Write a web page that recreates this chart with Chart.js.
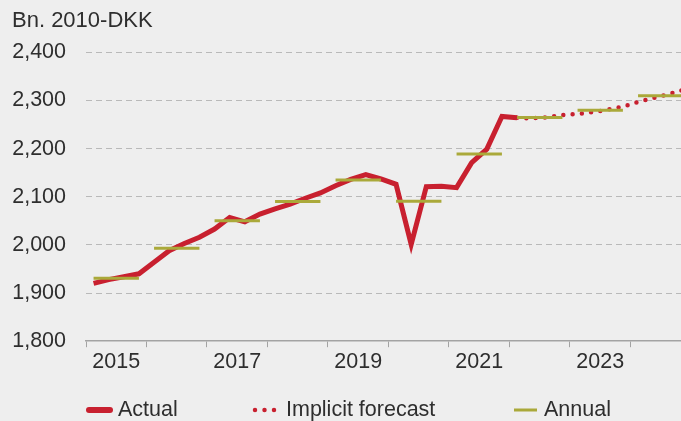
<!DOCTYPE html>
<html>
<head>
<meta charset="utf-8">
<script src="https://cdn.jsdelivr.net/npm/chart.js@4.4.1/dist/chart.umd.min.js"></script>
<style>
  html, body { margin: 0; padding: 0; background: #eeeeee; }
  #wrap { width: 681px; height: 421px; }
</style>
</head>
<body>
<div id="wrap"><canvas id="chart"></canvas></div>
<script>
// Quarterly GDP, actual
const actualQuarters = [
  '2015Q1', '2015Q2', '2015Q3', '2015Q4',
  '2016Q1', '2016Q2', '2016Q3', '2016Q4',
  '2017Q1', '2017Q2', '2017Q3', '2017Q4',
  '2018Q1', '2018Q2', '2018Q3', '2018Q4',
  '2019Q1', '2019Q2', '2019Q3', '2019Q4',
  '2020Q1', '2020Q2', '2020Q3', '2020Q4',
  '2021Q1', '2021Q2', '2021Q3', '2021Q4',
  '2022Q1'
];
const actualValues = [
  1920, 1928, 1934, 1940,
  1964, 1988, 2003, 2016,
  2033, 2057, 2048, 2064,
  2075, 2085, 2097, 2108,
  2123, 2136, 2146, 2137,
  2126, 2001, 2121, 2122,
  2119, 2171, 2199, 2267,
  2264
];

// Implicit forecast
const forecastQuarters = [
  '2022Q1', '2022Q2', '2022Q3', '2022Q4',
  '2023Q1', '2023Q2', '2023Q3', '2023Q4',
  '2024Q1', '2024Q2', '2024Q3', '2024Q4'
];
const forecastValues = [
  2264, 2263, 2265, 2270,
  2272, 2276, 2281, 2287,
  2297, 2305, 2313, 2322
];

// Annual averages
const annualYears = [2015, 2016, 2017, 2018, 2019, 2020, 2021, 2022, 2023, 2024];
const annualValues = [1931, 1993, 2050, 2090, 2135, 2091, 2189, 2265, 2280, 2310];

const yMin = 1800;
const yMax = 2400;
const yStep = 100;
const xLabelYears = [2015, 2017, 2019, 2021, 2023];

const red = '#c8202f';
const olive = '#aaa93a';
const textColor = '#2e2e2e';
const fontFamily = '"Liberation Sans", Arial, Helvetica, sans-serif';
const fontSize = 21.5;

// '2016Q3' -> 2016.625 (middle of the quarter)
function quarterToX(label) {
  const year = parseInt(label.slice(0, 4), 10);
  const q = parseInt(label.slice(5), 10);
  return year + (q - 0.5) / 4;
}

const actualData = actualQuarters.map((q, i) => ({ x: quarterToX(q), y: actualValues[i] }));
const forecastData = forecastQuarters.map((q, i) => ({ x: quarterToX(q), y: forecastValues[i] }));

// one flat segment per year, from Q1 to Q4, broken by a gap
const annualData = [];
annualYears.forEach((year, i) => {
  annualData.push({ x: quarterToX(year + 'Q1'), y: annualValues[i] });
  annualData.push({ x: quarterToX(year + 'Q4'), y: annualValues[i] });
  annualData.push({ x: year + 0.94, y: null });
});

// Legend drawn at the bottom, under the axis
const bottomLegend = {
  id: 'bottomLegend',
  afterDraw(chart) {
    const ctx = chart.ctx;
    const y = 410;
    const items = [
      { text: 'Actual', color: red, width: 6, dash: [], cap: 'round', x0: 89, x1: 110, textX: 118 },
      { text: 'Implicit forecast', color: red, width: 4.5, dash: [0, 9.5], cap: 'round', x0: 255, x1: 275, textX: 286 },
      { text: 'Annual', color: olive, width: 3, dash: [], cap: 'butt', x0: 514, x1: 537, textX: 544 }
    ];
    ctx.save();
    ctx.font = fontSize + 'px ' + fontFamily;
    ctx.textBaseline = 'middle';
    ctx.textAlign = 'left';
    items.forEach(item => {
      ctx.beginPath();
      ctx.strokeStyle = item.color;
      ctx.lineWidth = item.width;
      ctx.lineCap = item.cap;
      ctx.setLineDash(item.dash);
      ctx.moveTo(item.x0, y);
      ctx.lineTo(item.x1, y);
      ctx.stroke();
      ctx.setLineDash([]);
      ctx.fillStyle = textColor;
      ctx.fillText(item.text, item.textX, y);
    });
    ctx.restore();
  }
};

const ctx = document.getElementById('chart').getContext('2d');
new Chart(ctx, {
  type: 'line',
  data: {
    datasets: [
      {
        label: 'Actual',
        data: actualData,
        borderColor: red,
        borderWidth: 5,
        borderJoinStyle: 'miter',
        pointRadius: 0,
        order: 1
      },
      {
        label: 'Implicit forecast',
        data: forecastData,
        borderColor: red,
        borderWidth: 4.5,
        borderDash: [0, 9.3],
        borderCapStyle: 'round',
        pointRadius: 0,
        order: 2
      },
      {
        label: 'Annual',
        data: annualData,
        borderColor: olive,
        borderWidth: 3,
        pointRadius: 0,
        spanGaps: false,
        order: 0
      }
    ]
  },
  options: {
    responsive: true,
    maintainAspectRatio: false,
    animation: false,
    layout: {
      padding: { left: 12, right: 0, top: 0, bottom: 44 }
    },
    plugins: {
      legend: { display: false },
      tooltip: { enabled: false },
      title: {
        display: true,
        text: 'Bn. 2010-DKK',
        align: 'start',
        color: textColor,
        font: { family: fontFamily, size: 22, weight: 'normal' },
        padding: { top: 8, bottom: 18 }
      }
    },
    scales: {
      x: {
        type: 'linear',
        min: 2015,
        max: 2024.835,
        afterBuildTicks(scale) {
          const ticks = [];
          annualYears.forEach(year => {
            ticks.push({ value: year });
            ticks.push({ value: year + 0.5 });
          });
          scale.ticks = ticks;
        },
        ticks: {
          autoSkip: false,
          maxRotation: 0,
          padding: 2,
          color: textColor,
          font: { family: fontFamily, size: fontSize },
          callback(value) {
            const year = Math.floor(value);
            return (value - year === 0.5 && xLabelYears.includes(year)) ? String(year) : '';
          }
        },
        grid: {
          drawOnChartArea: false,
          drawTicks: true,
          tickLength: 6,
          tickWidth: 1,
          tickColor: c => (c.tick && c.tick.value % 1 === 0) ? '#a3a3a3' : 'rgba(0,0,0,0)'
        },
        border: { display: true, color: '#a3a3a3', width: 1.5 }
      },
      y: {
        min: yMin,
        max: yMax,
        afterFit(scale) {
          scale.width = 74;
        },
        ticks: {
          stepSize: yStep,
          padding: 20,
          color: textColor,
          font: { family: fontFamily, size: fontSize },
          callback: value => value.toLocaleString('en-US')
        },
        grid: {
          drawTicks: false,
          lineWidth: 1,
          color: c => (c.tick && c.tick.value === yMin) ? 'rgba(0,0,0,0)' : '#b9b9b9'
        },
        border: { display: false, dash: [6, 4] }
      }
    }
  },
  plugins: [bottomLegend]
});
</script>
</body>
</html>
